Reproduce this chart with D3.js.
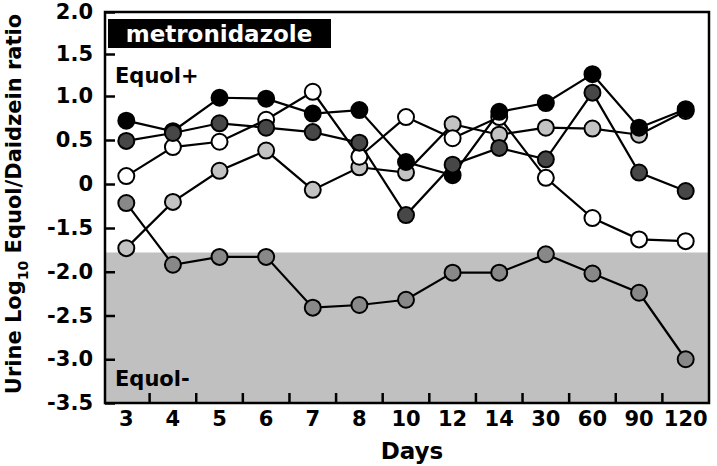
<!DOCTYPE html>
<html>
<head>
<meta charset="utf-8">
<script src="https://cdn.jsdelivr.net/npm/d3@7"></script>
<style>
  body { margin: 0; background: #fff; }
  svg { font-family: "DejaVu Sans", Verdana, sans-serif; font-weight: bold; }
</style>
</head>
<body>
<svg width="717" height="466"></svg>
<script>
// days on the x axis (categorical)
var days = ["3", "4", "5", "6", "7", "8", "10", "12", "14", "30", "60", "90", "120"];

// y ticks (axis is broken between 0 and -1.5)
var yTicks = [2.0, 1.5, 1.0, 0.5, 0, -1.5, -2.0, -2.5, -3.0, -3.5];
var yTickLabels = ["2.0", "1.5", "1.0", "0.5", "0", "-1.5", "-2.0", "-2.5", "-3.0", "-3.5"];

// equol producer cut-off (top of grey band)
var equolCutoff = -1.78;

// subjects, log10 equol/daidzein
var lightGrey = [-1.73, -0.61, 0.15, 0.38, -0.2, 0.19, 0.13, 0.68, 0.56, 0.64, 0.63, 0.56, 0.83];
var white     = [0.09, 0.42, 0.48, 0.73, 1.05, 0.31, 0.76, 0.52, 0.76, 0.07, -1.16, -1.63, -1.65];
var black     = [0.72, 0.6, 0.98, 0.97, 0.8, 0.84, 0.25, 0.1, 0.82, 0.92, 1.26, 0.64, 0.85];
var darkGrey  = [0.49, 0.58, 0.69, 0.64, 0.59, 0.47, -1.06, 0.22, 0.41, 0.28, 1.04, 0.13, -0.24];
var midGrey   = [-0.65, -1.92, -1.83, -1.83, -2.41, -2.38, -2.32, -2.01, -2.01, -1.8, -2.02, -2.24, -3.0];

var series = [
  {name: "lightGrey", values: lightGrey, fill: "#c3c3c3"},
  {name: "white", values: white, fill: "#ffffff"},
  {name: "black", values: black, fill: "#000000"},
  {name: "darkGrey", values: darkGrey, fill: "#474747"},
  {name: "midGrey", values: midGrey, fill: "#888888"}
];

var plotL = 105, plotR = 709, plotT = 12, plotB = 403;

var svg = d3.select("svg");

var x = d3.scaleBand()
  .domain(days)
  .range([103, 709]);

// piecewise linear so the broken axis spacing matches
var y = d3.scaleLinear()
  .domain([-3.5, -1.5, 0, 1, 2])
  .range([plotB, 228, 184, 96, plotT]);

// grey "Equol-" zone
svg.append("rect")
  .attr("x", plotL)
  .attr("y", y(equolCutoff))
  .attr("width", plotR - plotL)
  .attr("height", plotB - y(equolCutoff))
  .attr("fill", "#c0c0c0");

// frame
svg.append("rect")
  .attr("x", plotL)
  .attr("y", plotT)
  .attr("width", plotR - plotL)
  .attr("height", plotB - plotT)
  .attr("fill", "none")
  .attr("stroke", "#000")
  .attr("stroke-width", 2.5);

// y axis
var yAxis = svg.append("g")
  .attr("transform", "translate(" + plotL + ",0)")
  .call(d3.axisLeft(y)
    .tickValues(yTicks)
    .tickSize(-10)
    .tickPadding(12)
    .tickFormat(function(d, i){ return yTickLabels[i]; }));
yAxis.select(".domain").remove();
yAxis.selectAll("line").attr("stroke", "#000").attr("stroke-width", 2.5);
yAxis.selectAll("text")
  .attr("font-size", 21)
  .attr("font-weight", "bold")
  .attr("font-family", "DejaVu Sans")
  .attr("fill", "#000");

// x axis labels (no ticks, ticks go between categories)
var xAxis = svg.append("g")
  .attr("transform", "translate(0," + plotB + ")")
  .call(d3.axisBottom(x).tickSize(0).tickPadding(8));
xAxis.select(".domain").remove();
xAxis.selectAll("text")
  .attr("font-size", 21)
  .attr("font-weight", "bold")
  .attr("font-family", "DejaVu Sans")
  .attr("fill", "#000");

svg.append("g").selectAll("line")
  .data(days.slice(1))
  .enter()
  .append("line")
  .attr("x1", function(d){ return x(d); })
  .attr("x2", function(d){ return x(d); })
  .attr("y1", plotB)
  .attr("y2", plotB - 10)
  .attr("stroke", "#000")
  .attr("stroke-width", 2.5);

// lines + markers
var line = d3.line()
  .x(function(d, i){ return x(days[i]) + x.bandwidth() / 2; })
  .y(function(d){ return y(d); });

series.forEach(function(s){
  var g = svg.append("g").attr("class", s.name);
  g.append("path")
    .attr("d", line(s.values))
    .attr("fill", "none")
    .attr("stroke", "#000")
    .attr("stroke-width", 2.2);
  g.selectAll("circle")
    .data(s.values)
    .enter()
    .append("circle")
    .attr("cx", function(d, i){ return x(days[i]) + x.bandwidth() / 2; })
    .attr("cy", function(d){ return y(d); })
    .attr("r", 8)
    .attr("fill", s.fill)
    .attr("stroke", "#000")
    .attr("stroke-width", 2);
});

// labels inside the plot
svg.append("rect")
  .attr("x", 108)
  .attr("y", 19)
  .attr("width", 223)
  .attr("height", 29)
  .attr("fill", "#000");
svg.append("text")
  .attr("x", 219)
  .attr("y", 42)
  .attr("text-anchor", "middle")
  .attr("font-size", 23)
  .attr("fill", "#fff")
  .text("metronidazole");

svg.append("text")
  .attr("x", 115)
  .attr("y", 83)
  .attr("font-size", 21)
  .text("Equol+");

svg.append("text")
  .attr("x", 115)
  .attr("y", 386)
  .attr("font-size", 21)
  .text("Equol-");

// axis titles
svg.append("text")
  .attr("x", 412)
  .attr("y", 459)
  .attr("text-anchor", "middle")
  .attr("font-size", 23)
  .text("Days");

var yt = svg.append("text")
  .attr("transform", "translate(21," + 204 + ") rotate(-90)")
  .attr("text-anchor", "middle")
  .attr("font-size", 21);
yt.append("tspan").text("Urine Log");
yt.append("tspan").attr("font-size", 14).attr("dy", 7).text("10");
yt.append("tspan").attr("dy", -7).text(" Equol/Daidzein ratio");
</script>
</body>
</html>
